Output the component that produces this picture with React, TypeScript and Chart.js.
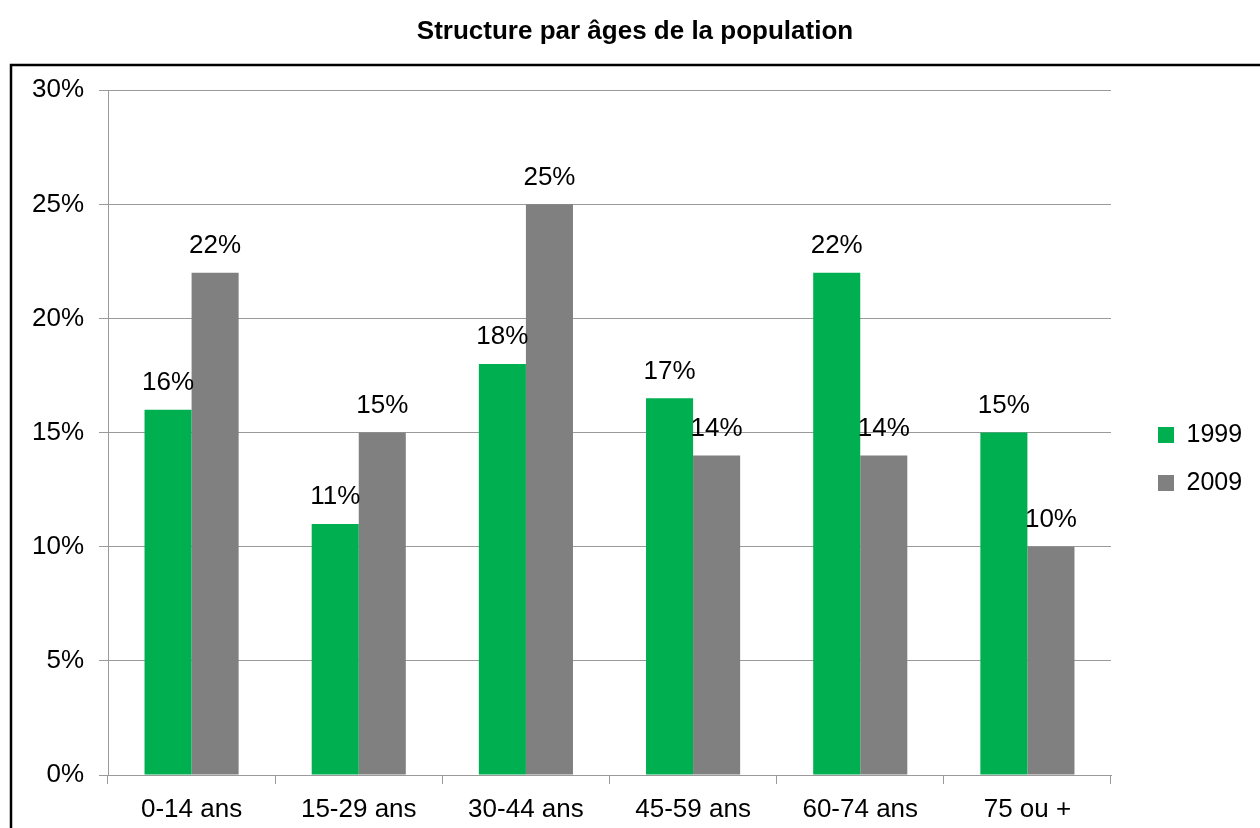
import React, { useEffect, useRef } from "react";
import { Chart, registerables } from "chart.js";

Chart.register(...registerables);

const categories = ["0-14 ans", "15-29 ans", "30-44 ans", "45-59 ans", "60-74 ans", "75 ou +"];
const series1999 = [16, 11, 18, 16.5, 22, 15];
const series2009 = [22, 15, 25, 14, 14, 10];
const seriesNames = ["1999", "2009"];
const yTicks = [0, 5, 10, 15, 20, 25, 30];
const titleText = "Structure par âges de la population";

const FONT = "'Liberation Sans', Arial, sans-serif";

export default function App() {
  const ref = useRef<HTMLCanvasElement | null>(null);
  useEffect(() => {
    const canvas = ref.current;
    if (!canvas) return;

    const frame = {
      id: "frame",
      beforeDraw(chart: any) {
        const c = chart.ctx;
        c.save();
        c.fillStyle = "#fff";
        c.fillRect(0, 0, chart.width, chart.height);
        c.strokeStyle = "#000";
        c.lineWidth = 2.5;
        c.strokeRect(11, 65, 1400, 1000);
        c.restore();
      },
    };

    const legendFix = {
      id: "legendFix",
      beforeInit(chart: any) {
        const lg = chart.legend;
        if (lg) {
          const orig = lg.fit.bind(lg);
          lg.fit = function () {
            orig();
            this.width = 149;
          };
        }
      },
      afterLayout(chart: any) {
        const lg = chart.legend;
        if (lg) {
          lg.left += 24;
          lg.right += 24;
          lg.top += 45;
          lg.bottom += 45;
        }
      },
    };

    const valueLabels = {
      id: "valueLabels",
      afterDatasetsDraw(chart: any) {
        const c = chart.ctx;
        c.save();
        c.font = `26px ${FONT}`;
        c.fillStyle = "#000";
        c.textAlign = "center";
        c.textBaseline = "middle";
        chart.data.datasets.forEach((ds: any, i: number) => {
          const meta = chart.getDatasetMeta(i);
          meta.data.forEach((bar: any, j: number) => {
            const v = ds.data[j];
            c.fillText(Math.round(v) + "%", bar.x, bar.y - 27);
          });
        });
        c.restore();
      },
    };

    const chart = new Chart(canvas, {
      type: "bar",
      data: {
        labels: categories,
        datasets: [
          { label: seriesNames[0], data: series1999, backgroundColor: "#00B050", borderWidth: 0 },
          { label: seriesNames[1], data: series2009, backgroundColor: "#808080", borderWidth: 0 },
        ],
      },
      options: {
        animation: false,
        responsive: false,
        maintainAspectRatio: false,
        layout: { padding: { left: 10, right: 0, top: 0, bottom: 0 } },
        datasets: { bar: { categoryPercentage: 0.563, barPercentage: 1 } },
        plugins: {
          title: {
            display: true,
            text: titleText,
            color: "#000",
            font: { family: FONT, size: 26, weight: "bold" },
            padding: { top: 16, bottom: 43 },
          },
          legend: {
            position: "right",
            labels: {
              color: "#000",
              font: { family: FONT, size: 25 },
              boxWidth: 16,
              boxHeight: 16,
              padding: 23,
            },
          },
          tooltip: { enabled: false },
        },
        scales: {
          x: {
            grid: {
              display: true,
              drawOnChartArea: false,
              drawTicks: true,
              tickLength: 9,
              color: "#9a9a9a",
              offset: true,
            },
            border: { display: true, color: "#9a9a9a", width: 1 },
            ticks: { color: "#000", font: { family: FONT, size: 26 }, padding: 10 },
            afterFit(scale: any) {
              scale.height = 53;
            },
          },
          y: {
            min: 0,
            max: 30,
            afterBuildTicks(scale: any) {
              scale.ticks = yTicks.map((v) => ({ value: v }));
            },
            grid: { color: "#9a9a9a", tickLength: 9, lineWidth: 1 },
            border: { display: true, color: "#9a9a9a", width: 1 },
            ticks: {
              color: "#000",
              font: { family: FONT, size: 26 },
              padding: 15,
              callback: (v: any) => v + "%",
            },
            afterFit(scale: any) {
              scale.width = 98;
            },
          },
        },
      },
      plugins: [frame, legendFix, valueLabels],
    } as any);
    return () => chart.destroy();
  }, []);

  return (
    <div style={{ position: "fixed", left: 0, top: 0, width: 1260, height: 828, background: "#fff" }}>
      <canvas ref={ref} width={1260} height={828} style={{ width: 1260, height: 828, display: "block" }} />
    </div>
  );
}
